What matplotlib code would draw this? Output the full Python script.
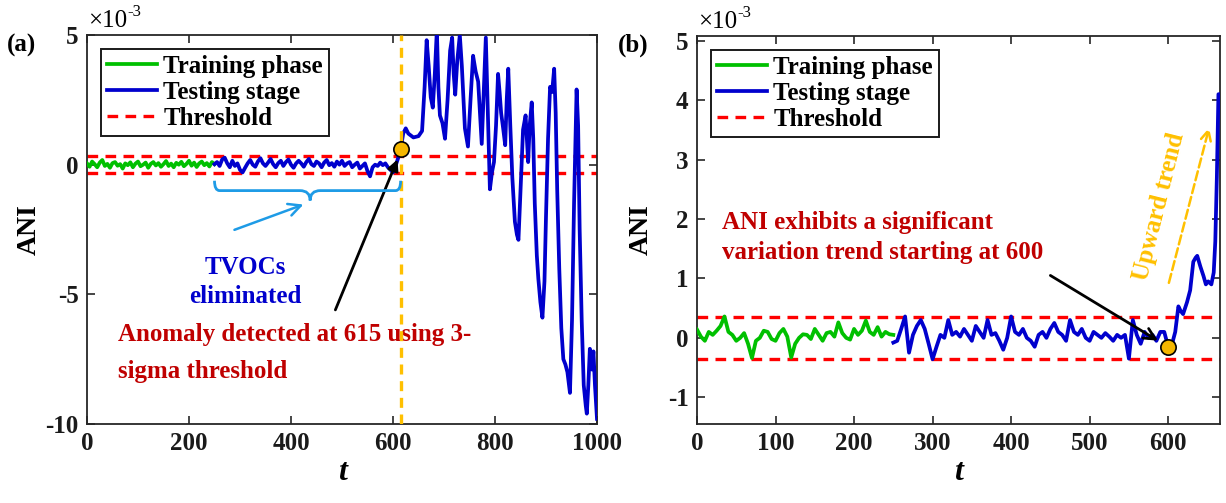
import numpy as np
import matplotlib
matplotlib.use("Agg")
import matplotlib.pyplot as plt
from matplotlib.path import Path
from matplotlib.patches import PathPatch

plt.rcParams['font.family'] = ['Liberation Serif', 'DejaVu Serif']
plt.rcParams['font.weight'] = 'bold'
plt.rcParams['axes.unicode_minus'] = False

# ---------------- data (ANI in units of 1e-3) ----------------
# Panel (a): training phase, t = 0..250 every 5
a_train_t = list(range(0, 251, 5))
a_train_v = [0.05, -0.08, 0.12, 0.02, -0.10, 0.08, 0.18, -0.05, 0.03, -0.12,
             0.06, 0.10, -0.04, 0.02, -0.15, 0.05, -0.02, 0.09, -0.10, 0.04,
             0.12, -0.06, 0.00, 0.08, -0.12, 0.03, 0.10, -0.03, 0.06, -0.08,
             0.02, 0.14, -0.05, 0.04, -0.10, 0.07, 0.00, 0.11, -0.06, 0.03,
             0.15, -0.04, 0.08, -0.09, 0.05, 0.12, -0.02, 0.06, -0.07, 0.10,
             0.02]
# Panel (a): testing stage before detection, t = 250..610 every 5
a_quiet_t = list(range(250, 611, 5))
a_quiet_v = [0.02, 0.10, -0.05, 0.20, 0.27, 0.05, -0.10, 0.15, -0.05, 0.05,
             -0.20, -0.30, -0.12, 0.05, 0.18, 0.00, -0.08, 0.12, 0.25, 0.05,
             -0.05, 0.08, 0.22, 0.02, -0.10, 0.06, 0.15, -0.05, 0.10, 0.20,
             0.00, -0.12, 0.05, 0.15, 0.05, -0.08, 0.10, 0.22, 0.02, -0.05,
             0.12, 0.05, -0.10, 0.08, 0.18, -0.02, 0.06, -0.08, 0.12, 0.00,
             0.15, -0.05, 0.05, 0.10, -0.10, 0.00, 0.08, -0.15, -0.05, 0.05,
             -0.25, -0.45, -0.10, 0.00, -0.05, 0.08, -0.02, 0.05, -0.10, -0.20,
             -0.30, -0.05, 0.25]
# Panel (a): testing stage from detection on
a_burst_t = [615, 620, 625, 630, 640, 650, 657, 662, 666, 670, 674, 678, 682, 686,
             689, 692, 697, 702, 707, 712, 716, 719, 722, 726, 731, 735, 738, 741,
             747, 752, 757, 762, 767, 771, 774, 778, 782, 786, 790, 794, 798, 802,
             806, 809, 812, 816, 820, 823, 826, 830, 834, 839, 843, 846, 850, 855,
             860, 862, 865, 868, 872, 875, 878, 882, 885, 889, 893, 897, 900, 904,
             908, 912, 916, 919, 922, 926, 930, 934, 938, 942, 947, 951, 955, 960,
             963, 966, 970, 974, 978, 980, 983, 986, 990, 993, 996, 1000]
a_burst_v = [0.60, 1.20, 1.40, 1.20, 1.05, 1.10, 1.30, 3.00, 4.80, 3.80, 2.60, 2.20, 3.50, 5.20,
             3.00, 1.90, 1.60, 1.00, 2.50, 4.40, 4.90, 3.50, 2.70, 4.00, 5.00, 3.80, 2.60, 1.40,
             0.70, 2.50, 4.20, 3.60, 3.20, 1.80, 0.80, 2.80, 4.90, 2.00, -0.95, -0.30, 0.10, 1.50,
             3.50, 2.80, 2.00, 1.40, 0.75, 2.50, 3.70, 1.50, -0.50, -2.20, -2.70, -2.90, -1.00, 1.35,
             1.90, 1.20, 0.10, 1.50, 2.40, 1.00, -1.50, -3.50, -4.40, -5.30, -5.90, -4.50, -2.00, 1.00,
             3.00, 2.80, 3.70, 2.00, -1.00, -4.00, -6.30, -7.50, -7.70, -8.00, -8.80, -6.00, -1.50, 2.90,
             1.50, -2.50, -6.00, -8.50, -9.30, -9.60, -8.50, -7.10, -7.90, -7.20, -8.50, -9.80]
a_threshold = 0.33
a_detect_t = 615
a_detect_v = 0.60

# Panel (b): training phase, t = 0..250 every 5
b_train_t = list(range(0, 251, 5))
b_train_v = [0.14, 0.02, -0.05, 0.10, 0.05, 0.12, 0.20, 0.36, 0.10, 0.05,
             -0.05, 0.00, 0.08, -0.10, -0.34, -0.05, 0.00, 0.12, 0.10, -0.02,
             -0.05, 0.08, 0.15, 0.02, -0.33, -0.10, 0.00, 0.06, 0.05, -0.02,
             0.15, 0.05, -0.05, 0.08, 0.10, 0.02, 0.26, 0.08, 0.00, -0.03,
             0.15, 0.05, 0.12, 0.29, 0.10, 0.05, 0.18, 0.02, 0.10, 0.06,
             0.05]
# Panel (b): testing stage, t = 250..595 every 5
b_test_t = list(range(250, 596, 5))
b_test_v = [-0.08, -0.05, 0.15, 0.36, -0.25, 0.05, 0.20, 0.30, 0.15, -0.10,
            -0.36, -0.15, 0.05, 0.00, 0.30, 0.05, 0.10, 0.02, 0.15, 0.05,
            -0.05, 0.20, 0.10, 0.00, 0.30, 0.05, 0.08, -0.05, -0.20, 0.00,
            0.36, 0.10, 0.05, 0.15, 0.00, -0.05, -0.15, 0.05, 0.10, 0.00,
            0.15, 0.25, 0.10, 0.05, -0.05, 0.30, 0.10, 0.05, 0.15, 0.00,
            -0.05, 0.10, 0.05, 0.00, 0.08, 0.02, -0.05, 0.05, 0.00, 0.05,
            -0.35, 0.30, 0.05, -0.10, 0.10, 0.00, 0.05, -0.05, 0.10, 0.10]
b_rise_t = [600, 605, 609, 613, 616, 619, 624, 628, 632, 635, 637, 641, 645, 648,
            651, 655, 658, 660, 662, 664, 666]
b_rise_v = [-0.15, -0.10, 0.10, 0.53, 0.45, 0.40, 0.60, 0.80, 1.28, 1.35, 1.38, 1.20, 1.04, 0.90,
            0.95, 0.90, 1.10, 1.62, 2.70, 4.10, 4.10]
b_threshold = 0.35
b_detect_t = 600
b_detect_v = -0.15

# ---------------- styling ----------------
GREEN = '#00C000'
BLUE = '#0000CD'
RED = '#FF0000'
DARKRED = '#C00000'
ORANGE = '#FFC000'
LIGHTBLUE = '#1E9BE6'
FS = 18
LW = 2.7

fig = plt.figure(figsize=(12.26, 5.03), dpi=100)
axa = fig.add_axes([87 / 1226, 79 / 503, 510 / 1226, 389 / 503])
axb = fig.add_axes([697 / 1226, 79 / 503, 523 / 1226, 388 / 503])


def style_axes(ax, ypad):
    for s in ax.spines.values():
        s.set_linewidth(1.3)
        s.set_color('#262626')
    ax.tick_params(direction='in', length=6, width=1.2, top=True, right=True,
                   labelsize=FS, pad=6, colors='#262626', labelcolor='#1a1a1a')
    for lab in ax.get_xticklabels() + ax.get_yticklabels():
        lab.set_fontweight('bold')
    ax.set_xlabel('t', fontsize=23, fontstyle='italic', fontweight='bold', labelpad=2)
    ax.set_ylabel('ANI', fontsize=20, fontweight='bold', labelpad=ypad)
    # exponent marker for the y axis
    ax.annotate('\u00d710', xy=(0.0, 1.0), xycoords='axes fraction', xytext=(1, 2),
                textcoords='offset points', fontsize=FS, fontweight='normal',
                ha='left', va='bottom')
    ax.annotate('-3', xy=(0.0, 1.0), xycoords='axes fraction', xytext=(29, 11),
                textcoords='offset points', fontsize=12, fontweight='normal',
                ha='left', va='bottom')


def draw_series(ax, tr_t, tr_v, te_t, te_v, thr):
    ax.plot(tr_t, tr_v, color=GREEN, lw=LW, label='Training phase', zorder=3)
    ax.plot(te_t, te_v, color=BLUE, lw=LW, label='Testing stage', zorder=3)
    ax.axhline(thr, color=RED, lw=2.4, ls=(0, (3.2, 2.2)), label='Threshold', zorder=2)
    ax.axhline(-thr, color=RED, lw=2.4, ls=(0, (3.2, 2.2)), zorder=2)
    leg = ax.legend(loc='upper left', bbox_to_anchor=(0.0, 1.0), borderaxespad=0.55,
                    fancybox=False, edgecolor='#1a1a1a', framealpha=1,
                    prop={'weight': 'bold', 'size': FS}, handlelength=2.0,
                    handletextpad=0.25, labelspacing=0.12, borderpad=0.25)
    leg.get_frame().set_linewidth(1.4)


# ---------------- panel (a) ----------------
a_test_t = a_quiet_t + a_burst_t
a_test_v = a_quiet_v + a_burst_v
draw_series(axa, a_train_t, a_train_v, a_test_t, a_test_v, a_threshold)
axa.set_xlim(0, 1000)
axa.set_ylim(-10, 5)
axa.set_xticks(range(0, 1001, 200))
axa.set_yticks([-10, -5, 0, 5])
style_axes(axa, 3)
axa.axvline(a_detect_t, color=ORANGE, lw=2.4, ls=(0, (3, 2)), zorder=4)
axa.plot([a_detect_t], [a_detect_v], 'o', ms=11, mfc='#F5B700', mec='black', mew=1.2, zorder=6)

# brace under the eliminated section
x0, x1 = a_quiet_t[0], a_detect_t
xm = 0.5 * (x0 + x1) + 5
ytop, ymid, ytip = -0.62, -1.0, -1.38
verts = [(x0, ytop), (x0, ymid), (x0 + 10, ymid),
         (xm - 20, ymid), (xm, ymid), (xm, ytip),
         (xm, ymid), (xm + 20, ymid),
         (x1 - 10, ymid), (x1, ymid), (x1, ytop)]
codes = [Path.MOVETO, Path.CURVE3, Path.CURVE3,
         Path.LINETO, Path.CURVE3, Path.CURVE3,
         Path.CURVE3, Path.CURVE3,
         Path.LINETO, Path.CURVE3, Path.CURVE3]
axa.add_patch(PathPatch(Path(verts, codes), fc='none', ec=LIGHTBLUE, lw=2.0, zorder=4))
axa.annotate('', xy=(xm - 8, -1.5), xytext=(284, -2.55),
             arrowprops=dict(arrowstyle='->', color=LIGHTBLUE, lw=1.8,
                             mutation_scale=22))
axa.text(310, -3.98, 'TVOCs', color=BLUE, fontsize=FS, fontweight='bold',
         ha='center', va='center')
axa.text(310, -5.1, 'eliminated', color=BLUE, fontsize=FS, fontweight='bold',
         ha='center', va='center')
axa.annotate('', xy=(a_detect_t - 2, a_detect_v - 0.2), xytext=(487, -5.6),
             arrowprops=dict(arrowstyle='-|>', color='black', lw=2.0,
                             mutation_scale=16, shrinkA=0, shrinkB=4))
axa.text(61, -6.56, 'Anomaly detected at 615 using 3-', color=DARKRED, fontsize=FS,
         fontweight='bold', ha='left', va='center')
axa.text(61, -7.98, 'sigma threshold', color=DARKRED, fontsize=FS,
         fontweight='bold', ha='left', va='center')

# ---------------- panel (b) ----------------
b_all_t = b_test_t + b_rise_t
b_all_v = b_test_v + b_rise_v
draw_series(axb, b_train_t, b_train_v, b_all_t, b_all_v, b_threshold)
axb.set_xlim(0, 666)
axb.set_ylim(-1.45, 5.08)
axb.set_xticks(range(0, 601, 100))
axb.set_yticks(range(-1, 6))
style_axes(axb, 10)
axb.plot([b_detect_t], [b_detect_v], 'o', ms=11, mfc='#F5B700', mec='black', mew=1.2, zorder=6)
axb.annotate('', xy=(b_detect_t - 4, b_detect_v + 0.03), xytext=(450, 1.05),
             arrowprops=dict(arrowstyle='->', color='black', lw=2.0,
                             mutation_scale=20, shrinkA=0, shrinkB=6))
axb.text(32, 1.94, 'ANI exhibits a significant', color=DARKRED, fontsize=FS,
         fontweight='bold', ha='left', va='center')
axb.text(32, 1.44, 'variation trend starting at 600', color=DARKRED, fontsize=FS,
         fontweight='bold', ha='left', va='center')
axb.annotate('', xy=(653, 3.58), xytext=(600, 0.88),
             arrowprops=dict(arrowstyle='->', color=ORANGE, lw=1.8, ls='--',
                             mutation_scale=18))
axb.text(588, 2.2, 'Upward trend', color=ORANGE, fontsize=FS, fontweight='bold',
         rotation=76, ha='center', va='center')

# panel tags
fig.text(7 / 1226, 1 - 45 / 503, '(a)', fontsize=FS, fontweight='bold', ha='left', va='center')
fig.text(618 / 1226, 1 - 45 / 503, '(b)', fontsize=FS, fontweight='bold', ha='left', va='center')

fig.savefig('out.png', dpi=100)
